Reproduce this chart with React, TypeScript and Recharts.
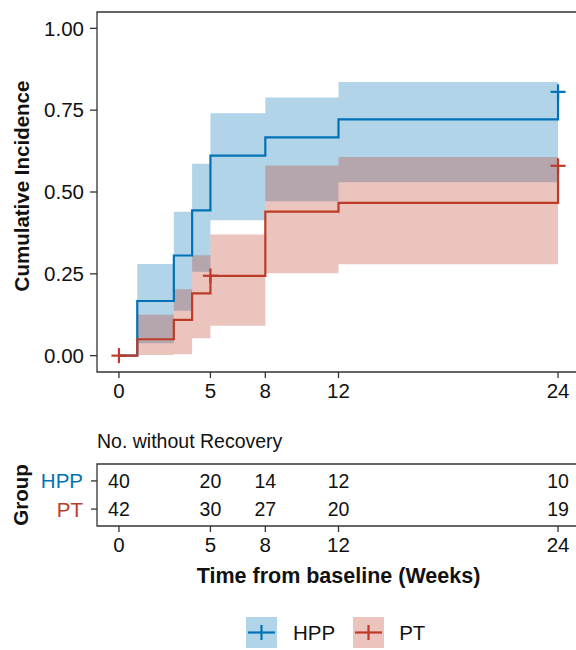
import React from 'react';
import {
  ComposedChart,
  Area,
  Line,
  Scatter,
  XAxis,
  YAxis,
  ReferenceArea,
  Label
} from 'recharts';

const times = [0, 1, 3, 4, 5, 8, 12, 24];
const hppEstimate = [0, 0.167, 0.306, 0.444, 0.611, 0.667, 0.722, 0.806];
const hppLower = [0, 0.038, 0.137, 0.256, 0.414, 0.472, 0.53, 0.53];
const hppUpper = [0, 0.28, 0.44, 0.586, 0.741, 0.789, 0.836, 0.836];
const ptEstimate = [0, 0.05, 0.109, 0.19, 0.244, 0.44, 0.467, 0.58];
const ptLower = [0, 0.002, 0.004, 0.053, 0.091, 0.252, 0.279, 0.279];
const ptUpper = [0, 0.125, 0.203, 0.307, 0.37, 0.581, 0.607, 0.607];

const hppCensorTimes = [24];
const hppCensorValues = [0.806];
const ptCensorTimes = [0, 5, 24];
const ptCensorValues = [0, 0.244, 0.58];

const xTicks = [0, 5, 8, 12, 24];
const yTicks = [0, 0.25, 0.5, 0.75, 1];

const groups = ['HPP', 'PT'];
const riskTimes = [0, 5, 8, 12, 24];
const hppAtRisk = [40, 20, 14, 12, 10];
const ptAtRisk = [42, 30, 27, 20, 19];

const BLUE = '#0072B5';
const RED = '#BC3C29';
const INK = '#333333';
const FONT = '"Liberation Sans", Arial, sans-serif';
const groupColors = [BLUE, RED];

const X_DOMAIN: [number, number] = [-1.2, 25.2];
const TABLE_TOP = 456;

const rows = times.map((t, i) => ({
  t,
  hpp: hppEstimate[i],
  hppBand: [hppLower[i], hppUpper[i]],
  pt: ptEstimate[i],
  ptBand: [ptLower[i], ptUpper[i]]
}));

const hppCensor = hppCensorTimes.map((t, i) => ({ t, y: hppCensorValues[i] }));
const ptCensor = ptCensorTimes.map((t, i) => ({ t, y: ptCensorValues[i] }));

const hppRisk = riskTimes.map((t, i) => ({ t, row: 0, n: hppAtRisk[i] }));
const ptRisk = riskTimes.map((t, i) => ({ t, row: 1, n: ptAtRisk[i] }));

const plus = (color: string) => (props: any) => {
  const { cx, cy } = props;
  return (
    <g stroke={color} strokeWidth={2.2}>
      <line x1={cx - 7.5} x2={cx + 7.5} y1={cy} y2={cy} />
      <line x1={cx} x2={cx} y1={cy - 7.5} y2={cy + 7.5} />
    </g>
  );
};

const countLabel = (props: any) => {
  const { cx, cy, payload } = props;
  return (
    <text x={cx} y={cy} textAnchor="middle" dominantBaseline="central" fontSize={19.5} fill="#111" fontFamily={FONT}>
      {payload.n}
    </text>
  );
};

const groupTick = (props: any) => {
  const { x, y, payload } = props;
  return (
    <text x={x} y={y} textAnchor="end" dominantBaseline="central" fontSize={20.5} fill={groupColors[payload.value]} fontFamily={FONT}>
      {groups[payload.value]}
    </text>
  );
};

const tickStyle = { fontSize: 20.5, fill: '#111', fontFamily: FONT };
const tickLineStyle = { stroke: INK, strokeWidth: 1.3 };

const LegendKey = ({ color }: { color: string }) => (
  <svg width={31} height={31}>
    <rect x={0} y={0} width={31} height={31} fill={color} fillOpacity={0.3} />
    <line x1={2} x2={29} y1={15.5} y2={15.5} stroke={color} strokeWidth={2.2} />
    <line x1={15.5} x2={15.5} y1={8} y2={23} stroke={color} strokeWidth={2.2} />
  </svg>
);

const App = () => {
  return (
    <div style={{ position: 'absolute', left: 0, top: 0, width: 576, height: 650, overflow: 'hidden', background: '#fff', fontFamily: FONT }}>
      <div style={{ position: 'absolute', left: 0, top: 0 }}>
        <ComposedChart width={600} height={410} data={rows} margin={{ top: 12, right: 20, bottom: 0, left: 0 }}>
          <XAxis
            type="number"
            dataKey="t"
            domain={X_DOMAIN}
            ticks={xTicks}
            allowDataOverflow
            height={38}
            tickSize={6}
            tickMargin={5}
            axisLine={false}
            tickLine={tickLineStyle}
            tick={tickStyle}
          />
          <YAxis
            type="number"
            domain={[-0.05, 1.05]}
            ticks={yTicks}
            allowDataOverflow
            width={97}
            tickSize={7}
            tickMargin={6}
            axisLine={false}
            tickLine={tickLineStyle}
            tick={tickStyle}
            tickFormatter={(v: number) => v.toFixed(2)}
          >
            <Label
              content={(p: any) => {
                const cy = p.viewBox.y + p.viewBox.height / 2 - 6;
                return (
                  <text x={21} y={cy} transform={`rotate(-90 21 ${cy})`} textAnchor="middle" dominantBaseline="central" fontSize={20.5} fontWeight="bold" fill="#111" fontFamily={FONT}>
                    Cumulative Incidence
                  </text>
                );
              }}
            />
          </YAxis>
          <Area type="stepAfter" dataKey="hppBand" stroke="none" fill={BLUE} fillOpacity={0.3} isAnimationActive={false} />
          <Area type="stepAfter" dataKey="ptBand" stroke="none" fill={RED} fillOpacity={0.3} isAnimationActive={false} />
          <Line type="stepAfter" dataKey="hpp" stroke={BLUE} strokeWidth={2.2} dot={false} isAnimationActive={false} />
          <Line type="stepAfter" dataKey="pt" stroke={RED} strokeWidth={2.2} dot={false} isAnimationActive={false} />
          <Scatter data={hppCensor} dataKey="y" shape={plus(BLUE)} isAnimationActive={false} />
          <Scatter data={ptCensor} dataKey="y" shape={plus(RED)} isAnimationActive={false} />
          <ReferenceArea x1={X_DOMAIN[0]} x2={X_DOMAIN[1]} y1={-0.05} y2={1.05} fill="none" stroke={INK} strokeWidth={1.3} />
        </ComposedChart>
      </div>

      <div style={{ position: 'absolute', left: 97, top: 430, fontSize: 19.5, color: '#111' }}>No. without Recovery</div>

      <div style={{ position: 'absolute', left: 0, top: TABLE_TOP }}>
        <ComposedChart width={600} height={140} margin={{ top: 8, right: 20, bottom: 0, left: 0 }}>
          <XAxis
            type="number"
            dataKey="t"
            domain={X_DOMAIN}
            ticks={xTicks}
            allowDataOverflow
            height={70}
            tickSize={6}
            tickMargin={5}
            axisLine={false}
            tickLine={tickLineStyle}
            tick={tickStyle}
          >
            <Label
              content={(p: any) => {
                const cx = p.viewBox.x + p.viewBox.width / 2;
                const cy = 576 - TABLE_TOP;
                return (
                  <text x={cx} y={cy} textAnchor="middle" dominantBaseline="central" fontSize={21.5} fontWeight="bold" fill="#111" fontFamily={FONT}>
                    Time from baseline (Weeks)
                  </text>
                );
              }}
            />
          </XAxis>
          <YAxis
            type="number"
            dataKey="row"
            domain={[-0.6, 1.6]}
            reversed
            ticks={[0, 1]}
            width={97}
            tickSize={6}
            tickMargin={8}
            axisLine={false}
            tickLine={tickLineStyle}
            tick={groupTick}
          >
            <Label
              content={(p: any) => {
                const cy = p.viewBox.y + p.viewBox.height / 2;
                return (
                  <text x={20} y={cy} transform={`rotate(-90 20 ${cy})`} textAnchor="middle" dominantBaseline="central" fontSize={20.5} fontWeight="bold" fill="#111" fontFamily={FONT}>
                    Group
                  </text>
                );
              }}
            />
          </YAxis>
          <Scatter data={hppRisk} dataKey="row" shape={countLabel} isAnimationActive={false} />
          <Scatter data={ptRisk} dataKey="row" shape={countLabel} isAnimationActive={false} />
          <ReferenceArea x1={X_DOMAIN[0]} x2={X_DOMAIN[1]} y1={-0.6} y2={1.6} fill="none" stroke={INK} strokeWidth={1.3} />
        </ComposedChart>
      </div>

      <div style={{ position: 'absolute', left: 246, top: 617, display: 'flex', alignItems: 'center', fontSize: 20.5, color: '#111' }}>
        <LegendKey color={BLUE} />
        <span style={{ marginLeft: 16, marginRight: 18 }}>HPP</span>
        <LegendKey color={RED} />
        <span style={{ marginLeft: 15 }}>PT</span>
      </div>
    </div>
  );
};

export default App;
